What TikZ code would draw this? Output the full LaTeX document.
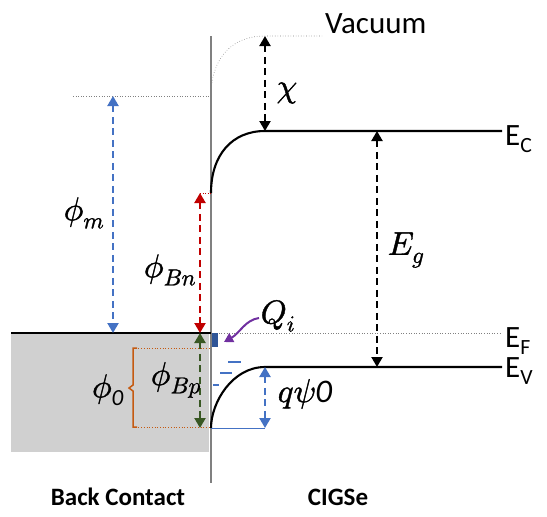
\documentclass[tikz,border=0pt]{standalone}
\usepackage{fontspec}
\usepackage{unicode-math}
\setmainfont{Carlito}
\setmathfont{Latin Modern Math}[FakeBold=1.2]
\usetikzlibrary{arrows.meta}
\definecolor{myblue}{HTML}{4472C4}
\definecolor{myred}{HTML}{C00000}
\definecolor{mygreen}{HTML}{385723}
\definecolor{myorange}{HTML}{C55A11}
\definecolor{mypurple}{HTML}{7030A0}
\definecolor{mydark}{HTML}{2F5597}
\definecolor{mygray}{HTML}{D0D0D0}
\begin{document}
\begin{tikzpicture}[x=1pt,y=-1pt,
  band/.style={line width=2.1pt,black},
  level/.style={gray,line width=0.6pt,dotted},
  darrow/.style={line width=2.2pt,dash pattern=on 7pt off 4.5pt,{Triangle[width=11pt,length=10pt]}-{Triangle[width=11pt,length=10pt]}},
  mlabel/.style={inner sep=0pt,font=\fontsize{33}{35}\selectfont},
  tlabel/.style={inner sep=0pt,anchor=west,font=\fontsize{31}{33}\selectfont},
  blabel/.style={inner sep=0pt,font=\fontsize{25}{27}\selectfont\bfseries}]
\useasboundingbox (0,0) rectangle (547,517);
% gray metal region
\fill[mygray] (11,333) rectangle (209,452);
% coordinates
\coordinate (ifTop) at (211,36);
\coordinate (ifBot) at (211,483);
\coordinate (vacL) at (73,96);
\coordinate (vacS) at (211,96);
\coordinate (vacK) at (265,36);
\coordinate (vacR) at (322,36);
\coordinate (ecS) at (211,193);
\coordinate (ecK) at (265,131);
\coordinate (ecR) at (502,131);
\coordinate (evS) at (211,428);
\coordinate (evK) at (265,367);
\coordinate (evR) at (502,367);
\coordinate (efL) at (11,333);
\coordinate (efS) at (211,333);
\coordinate (efR) at (502,333);
% interface line
\draw[gray,line width=1.2pt] (ifTop) -- (ifBot);
% vacuum level
\draw[level] (vacL) -- (vacS);
\draw[level] (vacS) .. controls (211,60) and (230,36) .. (vacK) -- (vacR);
% conduction band
\draw[band] (ecS) .. controls (211,155) and (232,131) .. (ecK) -- (ecR);
% valence band
\draw[band] (evS) .. controls (211,403) and (232,367) .. (evK) -- (evR);
% Fermi level
\draw[band] (efL) -- (efS);
\draw[level] (efS) -- (efR);
% labels right
\node[tlabel] (vac) at (325,24) {Vacuum};
\node[tlabel] (ec) at (505,139) {E\textsubscript{C}};
\node[tlabel] (ef) at (505,341) {E\textsubscript{F}};
\node[tlabel] (ev) at (505,371) {E\textsubscript{V}};
% chi
\coordinate (chiT) at (265,36);
\coordinate (chiB) at (265,131);
\draw[darrow] (chiT) -- (chiB);
\node[mlabel] (chi) at (287,93) {$\chi$};
% Eg
\coordinate (egT) at (377,131);
\coordinate (egB) at (377,367);
\draw[darrow] (egT) -- (egB);
\node[mlabel] (eg) at (406,250) {$E_g$};
% phi_m
\coordinate (pmT) at (113,96);
\coordinate (pmB) at (113,333);
\draw[darrow,myblue] (pmT) -- (pmB);
\node[mlabel] (pm) at (84,213) {$\phi_m$};
% phi_Bn
\coordinate (pbnT) at (200,193);
\coordinate (pbnB) at (200,333);
\draw[myred,dotted,line width=0.6pt] (pbnT) -- (ecS);
\draw[darrow,myred] (pbnT) -- (pbnB);
\node[mlabel] (pbn) at (170,270) {$\phi_{Bn}$};
% phi_Bp
\coordinate (pbpT) at (200,333);
\coordinate (pbpB) at (200,428);
\draw[darrow,mygreen] (pbpT) -- (pbpB);
\node[mlabel] (pbp) at (176,380) {$\phi_{Bp}$};
% phi_0 bracket
\coordinate (b0T) at (133,348);
\coordinate (b0B) at (133,427);
\draw[myorange,dotted,line width=0.7pt] (b0T) -- (211,348);
\draw[myorange,dotted,line width=0.7pt] (b0B) -- (211,427);
\draw[myorange,line width=1.5pt] (137,348) -- (b0T) -- (133,385) -- (129,388) -- (133,391) -- (b0B) -- (137,427);
\node[mlabel] (p0) at (108,390) {$\phi_{\mathit{0}}$};
% Qi
\fill[mydark] (212,333) rectangle (218,347) coordinate (qbox);
\node[mlabel] (qi) at (278,316) {$Q_i$};
\coordinate (qiS) at (259,318);
\coordinate (qiE) at (224,342);
\draw[mypurple,line width=2pt,-{Triangle[width=10pt,length=9pt]}] (qiS) .. controls (245,320) and (240,333) .. (qiE);
% negative charges
\draw[myblue,line width=2.4pt] (228,362) -- (241,362);
\draw[myblue,line width=2.4pt] (220,373) -- (232,373);
\draw[myblue,line width=2.4pt] (213,385) -- (219,385);
% q psi0
\coordinate (psT) at (265,367);
\coordinate (psB) at (265,428);
\draw[myblue,line width=0.8pt] (evS) -- (psB);
\draw[darrow,myblue] (psT) -- (psB);
\node[mlabel] (psi) at (305,394) {$q\psi\mathit{0}$};
% bottom labels
\node[blabel] (bc) at (118,497) {Back Contact};
\node[blabel] (cig) at (338,497) {CIGSe};
\end{tikzpicture}
\end{document}
